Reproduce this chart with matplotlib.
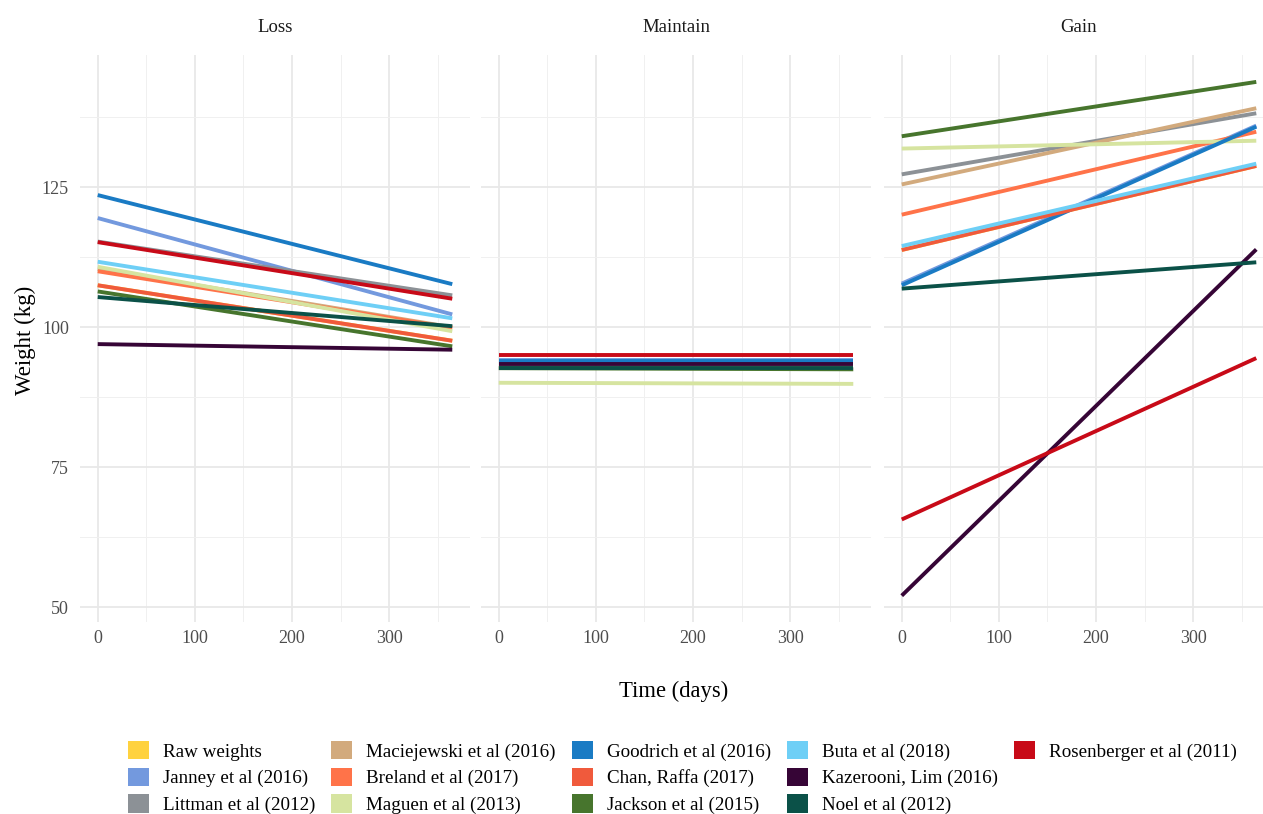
import numpy as np
import matplotlib.pyplot as plt
from matplotlib.patches import Patch
from matplotlib.ticker import MultipleLocator

plt.rcParams['font.family'] = ['Liberation Serif', 'DejaVu Serif']

# studies in legend / drawing order
studies = ['Raw weights', 'Janney et al (2016)', 'Littman et al (2012)',
           'Maciejewski et al (2016)', 'Breland et al (2017)', 'Maguen et al (2013)',
           'Goodrich et al (2016)', 'Chan, Raffa (2017)', 'Jackson et al (2015)',
           'Buta et al (2018)', 'Kazerooni, Lim (2016)', 'Noel et al (2012)',
           'Rosenberger et al (2011)']
colors = ['#FFD23F', '#7399DE', '#8C9196', '#D2AA7D', '#FF7349', '#D6E4A0',
          '#1A7BC4', '#F05A3C', '#47752D', '#6ECFF6', '#360536', '#0B5148',
          '#C80A18']

nan = np.nan
# predicted weight (kg) at day 0 and day 365 for each trajectory group
loss_start = [107.5, 119.5, 115.3, 110.4, 110.0, 110.8, 123.6, 107.5, 106.4, 111.7, 97.0, 105.4, 115.2]
loss_end = [97.6, 102.3, 105.7, 100.0, 99.9, 99.3, 107.7, 97.6, 96.6, 101.6, 96.0, 100.2, 105.1]
maintain_start = [92.8, 94.1, nan, nan, nan, 90.1, 94.0, nan, 92.7, nan, 93.4, 92.8, 95.0]
maintain_end = [92.8, 94.1, nan, nan, nan, 89.9, 94.0, nan, 92.5, nan, 93.4, 92.8, 95.0]
gain_start = [113.8, 107.8, 127.3, 125.5, 120.1, 131.9, 107.5, 113.8, 134.1, 114.5, 52.1, 106.9, 65.7]
gain_end = [128.8, 136.0, 138.2, 139.1, 134.9, 133.3, 135.8, 128.8, 143.8, 129.2, 113.9, 111.6, 94.5]

panels = ['Loss', 'Maintain', 'Gain']
days = [0, 365]

W, H = 1263, 814
fig = plt.figure(figsize=(W / 100, H / 100), dpi=100)

lefts = [80, 481, 884]
top, bottom, pw = 55, 622, 390
axes = []
for i, name in enumerate(panels):
    ax = fig.add_axes([lefts[i] / W, 1 - bottom / H, pw / W, (bottom - top) / H])
    axes.append(ax)
    fig.text((lefts[i] + pw / 2) / W, 1 - 27 / H, name, ha='center', va='center',
             fontsize=13.5, color='#1a1a1a')

data = [(loss_start, loss_end), (maintain_start, maintain_end), (gain_start, gain_end)]
for ax, (st, en) in zip(axes, data):
    for s, e, c in zip(st, en, colors):
        if np.isnan(s):
            continue
        ax.plot(days, [s, e], color=c, lw=2.8, solid_capstyle='butt')
    ax.set_xlim(-18.25, 383.25)
    ax.set_ylim(47.4, 148.6)
    ax.xaxis.set_major_locator(MultipleLocator(100))
    ax.xaxis.set_minor_locator(MultipleLocator(50))
    ax.yaxis.set_major_locator(MultipleLocator(25))
    ax.yaxis.set_minor_locator(MultipleLocator(12.5))
    ax.grid(which='major', color='#e8e8e8', lw=1.3)
    ax.grid(which='minor', color='#f0f0f0', lw=0.7)
    ax.set_axisbelow(True)
    for sp in ax.spines.values():
        sp.set_visible(False)
    ax.tick_params(which='both', length=0, labelsize=13, labelcolor='#4d4d4d')
    ax.tick_params(axis='x', pad=5.5)
    ax.tick_params(axis='y', pad=8)
    if ax is not axes[0]:
        ax.tick_params(labelleft=False)

fig.text(674 / W, 1 - 691 / H, 'Time (days)', ha='center', va='center', fontsize=16.3)
fig.text(25 / W, 1 - 340 / H, 'Weight (kg)', ha='center', va='center',
         rotation=90, fontsize=16.5)

# ggplot-style column fill: pad the last column with blank entries
handles = [Patch(facecolor=c, edgecolor='none') for c in colors]
labels = list(studies)
for _ in range(2):
    handles.append(Patch(facecolor='none', edgecolor='none'))
    labels.append('')
fig.legend(handles, labels, ncol=5, frameon=False, loc='upper left',
           bbox_to_anchor=(128 / W, 1 - 741 / H), borderpad=0, borderaxespad=0,
           fontsize=13.7, handlelength=1.1, handleheight=1.1, handletextpad=0.74,
           labelspacing=0.37, columnspacing=0.84)

fig.savefig('out.png', dpi=100)
